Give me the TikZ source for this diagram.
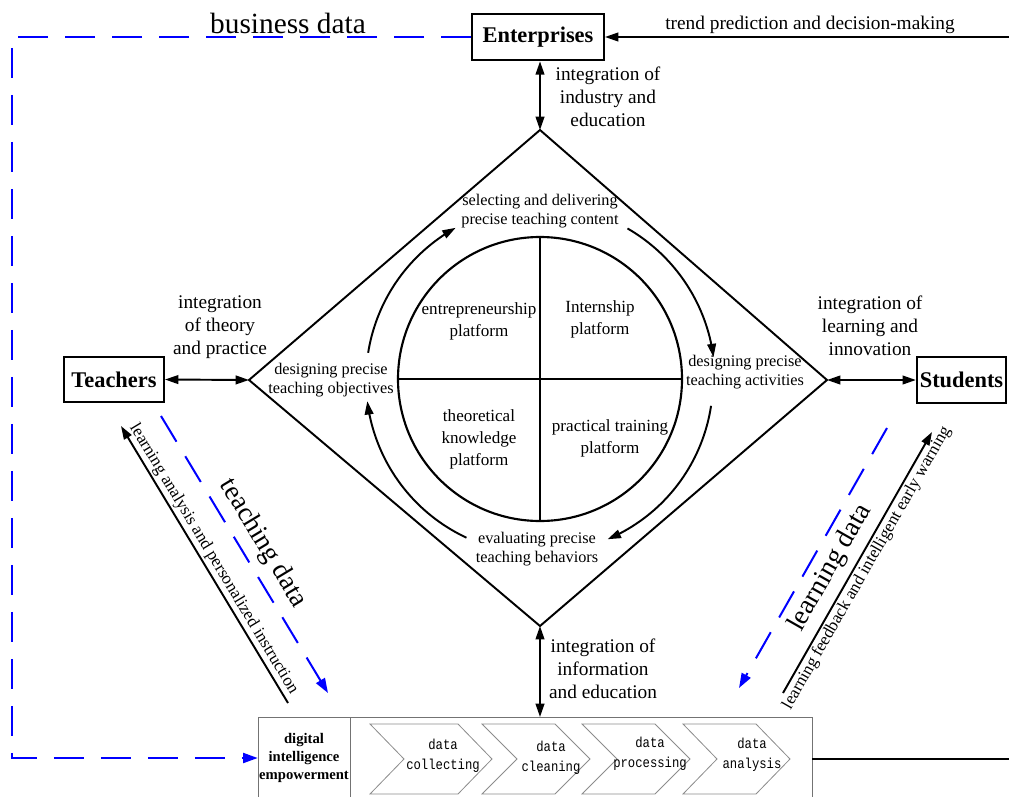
\documentclass[tikz,border=0pt]{standalone}
\usepackage{fontspec}
\setmainfont{Liberation Serif}
\setmonofont{Liberation Mono}
\newfontfamily\chevfont[FakeStretch=0.85]{Liberation Mono}
\usetikzlibrary{arrows.meta}
\begin{document}
\begin{tikzpicture}[x=0.75pt,y=-0.75pt,
  ln/.style={line width=1.45pt},
  tip/.style={-{Triangle[length=10pt,width=6.5pt]}},
  dtip/.style={{Triangle[length=10pt,width=6.5pt]}-{Triangle[length=10pt,width=6.5pt]}},
  bdash/.style={blue, line width=1.5pt, dash pattern=on 22.5pt off 12.75pt},
  btip/.style={-{Triangle[length=11pt,width=7.5pt]}},
  lbl/.style={font=\fontsize{14.5}{17.3}\selectfont, align=center, inner sep=0pt},
  inlbl/.style={font=\fontsize{12.2}{14.6}\selectfont, align=center, inner sep=0pt},
  cirlbl/.style={font=\fontsize{12.8}{16.5}\selectfont, align=center, inner sep=0pt},
  actor/.style={draw, line width=1.45pt, font=\bfseries\fontsize{16.8}{20}\selectfont, inner sep=0pt},
  chev/.style={draw=black!45, line width=0.6pt},
  chevlbl/.style={font=\chevfont\fontsize{10.8}{15}\selectfont, align=center, inner sep=0pt},
  rotlbl/.style={font=\fontsize{12.8}{15}\selectfont, inner sep=0pt},
  biglbl/.style={font=\fontsize{20.5}{24}\selectfont, inner sep=0pt, text=black}
]
\useasboundingbox (0,0) rectangle (1009,796);
\fill[white] (0,0) rectangle (1009,796);
\clip (0,0) rectangle (1009,796);

% actors
\node[actor, minimum width=99pt, minimum height=35pt] (ent) at (538,37) {Enterprises};
\node[actor, minimum width=75pt, minimum height=34pt] (tea) at (114,379.5) {Teachers};
\node[actor, minimum width=67pt, minimum height=34.5pt] (stu) at (961.5,380) {Students};

% diamond
\coordinate (dT) at (540,130);
\coordinate (dL) at (249,380);
\coordinate (dR) at (827,380);
\coordinate (dB) at (540,626);
\draw[ln] (dT) -- (dR) -- (dB) -- (dL) -- cycle;

% circle with quadrants
\node[draw, circle, line width=1.6pt, minimum size=213pt, inner sep=0pt] (circ) at (540,379) {};
\draw[line width=1.6pt] (circ.north) -- (circ.south);
\draw[line width=1.6pt] (circ.west) -- (circ.east);

\node[cirlbl] (p1) at (479,321) {entrepreneurship\\platform};
\node[cirlbl] (p2) at (600,319) {Internship\\platform};
\node[cirlbl] (p3) at (479,439) {theoretical\\knowledge\\platform};
\node[cirlbl] (p4) at (610,438) {practical training\\platform};

% inner labels
\node[inlbl] (sel) at (540,211) {selecting and delivering\\precise teaching content};
\node[inlbl] (obj) at (331,380) {designing precise\\teaching objectives};
\node[inlbl] (act) at (745,372) {designing precise\\teaching activities};
\node[inlbl] (eva) at (537,549) {evaluating precise\\teaching behaviors};

% cycle arcs
\draw[ln, tip] plot[domain=189:241, samples=40, variable=\t] ({540+174*cos(\t)},{380+174*sin(\t)});
\draw[ln, tip] plot[domain=300:352.5, samples=40, variable=\t] ({540+175*cos(\t)},{380+175*sin(\t)});
\draw[ln, tip] plot[domain=8.6:67, samples=40, variable=\t] ({540+173*cos(\t)},{380+173*sin(\t)});
\draw[ln, tip] plot[domain=115:173, samples=40, variable=\t] ({540+174*cos(\t)},{380+174*sin(\t)});

% integration arrows
\draw[ln, dtip] (dT |- ent.south) -- (dT);
\draw[ln, dtip] (tea.east) -- (dL);
\draw[ln, dtip] (dR) -- (stu.west);
\coordinate (pipetop) at (540,717);
\draw[ln, dtip] (dB) -- (pipetop);

\node[lbl] (l1) at (608,97) {integration of\\industry and\\education};
\node[lbl] (l2) at (220,327) {integration\\of theory\\and practice};
\node[lbl] (l3) at (870,326) {integration of\\learning and\\innovation};
\node[lbl] (l4) at (603,669) {integration of\\information\\and education};

% trend prediction
\coordinate (edgeT) at (1009,37);
\draw[ln, tip] (edgeT) -- (ent.east);
\node[lbl, anchor=base] (trend) at (810,29) {trend prediction and decision-making};

% digital pipeline
\draw[draw=black!55, line width=0.7pt] (258,717) rectangle (350,815);
\draw[draw=black!55, line width=0.7pt] (350,717) rectangle (812,815);
\node[font=\bfseries\fontsize{11}{13.5}\selectfont, align=center, inner sep=0pt, minimum width=69pt] (dig) at (304,758) {digital\\intelligence\\empowerment};

\draw[chev] (370,724) -- (458,724) -- (492,759) -- (458,794) -- (370,794) -- (404,759) -- cycle;
\draw[chev] (482,724) -- (555,724) -- (590,759) -- (555,794) -- (482,794) -- (517,759) -- cycle;
\draw[chev] (582,724) -- (655,724) -- (690,759) -- (655,794) -- (582,794) -- (617,759) -- cycle;
\draw[chev] (683,724) -- (756,724) -- (790,759) -- (756,794) -- (683,794) -- (717,759) -- cycle;
\node[chevlbl] (c1) at (443,756) {data\\collecting};
\node[chevlbl] (c2) at (551,758) {data\\cleaning};
\node[chevlbl] (c3) at (650,754) {data\\processing};
\node[chevlbl] (c4) at (752,755) {data\\analysis};

\coordinate (pipeR) at (812,759);
\coordinate (edgeB) at (1009,759);
\draw[ln] (pipeR) -- (edgeB);

% business data (blue dashed loop)
\coordinate (cTL) at (12,37);
\coordinate (cBL) at (12,758);
\draw[bdash, btip] (ent.west) -- (cTL) -- (cBL) -- (cBL -| dig.west);
\node[font=\fontsize{22}{26}\selectfont, inner sep=0pt, anchor=base] (bd) at (288,33) {business data};

% teacher side diagonals
\coordinate (laS) at (288,703);
\coordinate (laE) at (121,426);
\draw[ln, tip] (laS) -- (laE) node[midway, sloped, above=1.5pt, rotlbl] (la) {learning analysis and personalized instruction};
\coordinate (tdS) at (161,416);
\coordinate (tdE) at (328,693);
\draw[bdash, btip] (tdS) -- (tdE) node[midway, sloped, above=6pt, biglbl] (td) {teaching data};

% student side diagonals
\coordinate (ldS) at (887,428);
\coordinate (ldE) at (739,688);
\draw[bdash, btip] (ldS) -- (ldE) node[midway, sloped, below=5pt, biglbl] (ld) {learning data};
\coordinate (lfS) at (783,693);
\coordinate (lfE) at (932,432);
\draw[ln, tip] (lfS) -- (lfE) node[midway, sloped, below=1.5pt, rotlbl] (lf) {learning feedback and intelligent early warning};
\end{tikzpicture}
\end{document}
